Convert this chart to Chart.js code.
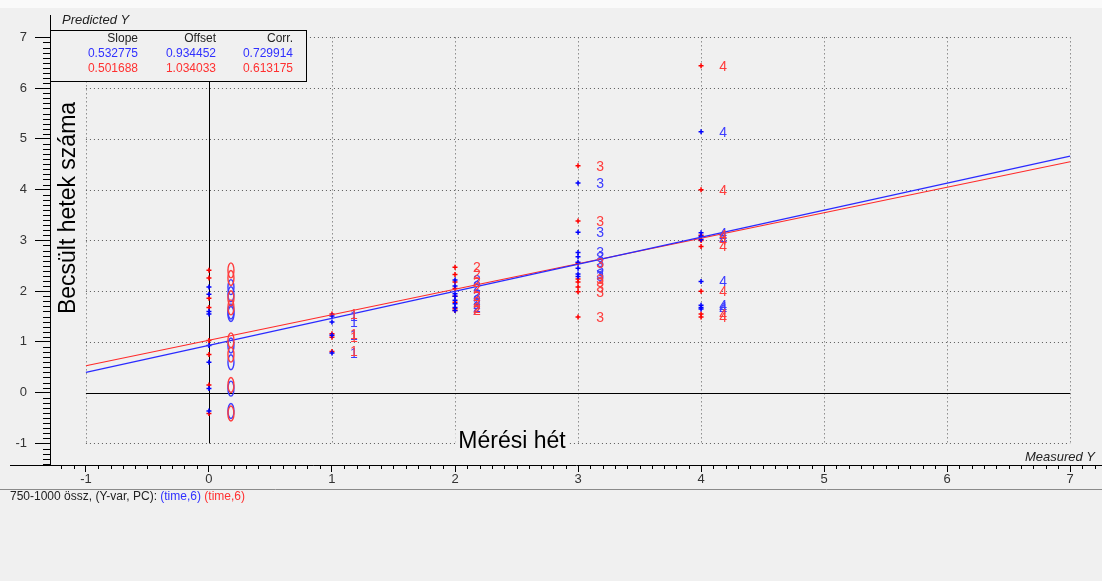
<!DOCTYPE html>
<html>
<head>
<meta charset="utf-8">
<script src="https://cdn.jsdelivr.net/npm/chart.js@4"></script>
<style>
html,body{margin:0;background:#f0f0f0}
#wrap{width:1102px;height:581px;position:relative}
</style>
</head>
<body>
<div id="wrap"><canvas id="chartCanvas"></canvas></div>
<script>
// measured week for each sample, and predicted week from the two models
let measuredWeek=[0,0,0,0,0,0,0,0, 1,1,1,1, 2,2,2,2,2,2,2,2, 3,3,3,3,3,3,3,3, 4,4,4,4,4,4,4,4]
let predictedBlue=[2.08,1.94,1.60,1.55,0.93,0.60,0.08,-0.36, 1.51,1.39,1.13,0.78,
    2.22,2.10,1.95,1.90,1.82,1.75,1.68,1.62, 4.13,3.16,2.76,2.68,2.57,2.45,2.34,2.29,
    5.14,3.15,3.08,3.02,2.19,1.72,1.68,1.65]
let predictedRed=[2.41,2.26,1.86,1.68,1.03,0.75,0.15,-0.41, 1.55,1.16,1.09,0.81,
    2.47,2.33,2.18,2.05,1.90,1.78,1.66,1.62, 4.47,3.38,2.55,2.24,2.18,2.08,1.99,1.49,
    6.44,4.00,3.10,3.00,2.88,2.00,1.55,1.49]
// regression lines, end points
let lineX=[-1,7]
let lineBlue=[0.40,4.66]
let lineRed=[0.53,4.55]
let statHeaders=["Slope","Offset","Corr."]
let statsBlue=["0.532775","0.934452","0.729914"]
let statsRed=["0.501688","1.034033","0.613175"]
let xTicks=[-1,0,1,2,3,4,5,6,7]
let yTicks=[-1,0,1,2,3,4,5,6,7]

let FONT="'Liberation Sans', Arial, sans-serif"
let BLUE="#0000ff", RED="#ff0000"

let pts=(xs,ys)=>xs.map((x,i)=>({x:x,y:ys[i]}))

let fig={
    id:"fig",
    beforeDraw(c){
        let ctx=c.ctx
        ctx.save()
        ctx.fillStyle="#f0f0f0"
        ctx.fillRect(0,0,c.width,c.height)
        ctx.fillStyle="#fafafa"
        ctx.fillRect(0,0,c.width,8)
        ctx.restore()
    },
    beforeDatasetsDraw(c){
        let ctx=c.ctx, xs=c.scales.x, ys=c.scales.y
        let L=xs.getPixelForValue(-1), R=xs.getPixelForValue(7)
        let T=ys.getPixelForValue(7), B=ys.getPixelForValue(-1)
        ctx.save()
        ctx.lineWidth=1
        ctx.strokeStyle="#5a5a5a"
        ctx.setLineDash([1,3])
        xTicks.forEach(v=>{
            if(v===0)return
            let x=Math.round(xs.getPixelForValue(v))+0.5
            ctx.beginPath();ctx.moveTo(x,T);ctx.lineTo(x,B);ctx.stroke()
        })
        yTicks.forEach(v=>{
            if(v===0)return
            let y=Math.round(ys.getPixelForValue(v))+0.5
            ctx.beginPath();ctx.moveTo(L,y);ctx.lineTo(R,y);ctx.stroke()
        })
        ctx.setLineDash([])
        ctx.strokeStyle="#000"
        let x0=Math.round(xs.getPixelForValue(0))+0.5
        let y0=Math.round(ys.getPixelForValue(0))+0.5
        ctx.beginPath();ctx.moveTo(x0,T);ctx.lineTo(x0,B);ctx.stroke()
        ctx.beginPath();ctx.moveTo(L,y0);ctx.lineTo(R,y0);ctx.stroke()
        ctx.restore()
    },
    afterDatasetsDraw(c){
        let ctx=c.ctx
        ctx.save()
        ctx.font="14px "+FONT
        ctx.textAlign="center"
        ctx.textBaseline="middle"
        ;[[2,"#3c3cff"],[3,"#ff3c3c"]].forEach(([i,col])=>{
            let meta=c.getDatasetMeta(i)
            ctx.fillStyle=col
            ctx.strokeStyle=col
            ctx.lineWidth=1.4
            meta.data.forEach((p,j)=>{
                let v=measuredWeek[j]
                let x=p.x+22, y=p.y
                if(v===0){
                    ctx.beginPath();ctx.ellipse(x,y,3,7.5,0,0,Math.PI*2);ctx.stroke()
                }else{
                    ctx.fillText(String(v),x,y+1)
                }
            })
        })
        ctx.restore()
    },
    afterDraw(c){
        let ctx=c.ctx, xs=c.scales.x, ys=c.scales.y
        ctx.save()
        ctx.strokeStyle="#000"
        ctx.lineWidth=1
        // minor ticks
        for(let k=-14;k<=70;k++){
            if(k%10===0)continue
            let y=Math.round(ys.getPixelForValue(k/10))+0.5
            ctx.beginPath();ctx.moveTo(43,y);ctx.lineTo(50,y);ctx.stroke()
        }
        let ab=c.chartArea.bottom
        for(let k=-12;k<=72;k++){
            if(k%10===0)continue
            let x=Math.round(xs.getPixelForValue(k/10))+0.5
            ctx.beginPath();ctx.moveTo(x,ab);ctx.lineTo(x,ab+4);ctx.stroke()
        }
        // axis line continues left of the y axis
        ctx.beginPath();ctx.moveTo(10,Math.round(ab)+0.5);ctx.lineTo(50,Math.round(ab)+0.5);ctx.stroke()
        // separator under the axis
        ctx.strokeStyle="#8a8a8a"
        ctx.beginPath();ctx.moveTo(0,489.5);ctx.lineTo(c.width,489.5);ctx.stroke()

        // stats box
        ctx.fillStyle="#f0f0f0"
        ctx.fillRect(50,30,256,51)
        ctx.strokeStyle="#000"
        ctx.strokeRect(50.5,30.5,256,51)
        ctx.font="12px "+FONT
        ctx.textAlign="right"
        ctx.textBaseline="middle"
        let cols=[138,216,293]
        statHeaders.forEach((t,i)=>{ctx.fillStyle="#222";ctx.fillText(t,cols[i],39)})
        statsBlue.forEach((t,i)=>{ctx.fillStyle="#3030ff";ctx.fillText(t,cols[i],54)})
        statsRed.forEach((t,i)=>{ctx.fillStyle="#ff3030";ctx.fillText(t,cols[i],69)})

        // axis names
        ctx.font="italic 13px "+FONT
        ctx.fillStyle="#222"
        ctx.textAlign="left"
        ctx.fillText("Predicted Y",62,20)
        ctx.textAlign="right"
        ctx.fillText("Measured Y",1095,457)

        ctx.font="23px "+FONT
        ctx.textAlign="center"
        let w=ctx.measureText("Mérési hét").width
        ctx.fillStyle="#f0f0f0"
        ctx.fillRect(512-w/2-3,430,w+6,24)
        ctx.fillStyle="#000"
        ctx.fillText("Mérési hét",512,442)
        ctx.save()
        ctx.translate(69,208)
        ctx.rotate(-Math.PI/2)
        ctx.fillText("Becsült hetek száma",0,0)
        ctx.restore()

        // caption
        ctx.font="12px "+FONT
        ctx.textAlign="left"
        let x=10
        ;[["750-1000 össz, (Y-var, PC): ","#222"],["(time,6)","#3030ff"],[" (time,6)","#ff3030"]].forEach(([t,col])=>{
            ctx.fillStyle=col
            ctx.fillText(t,x,497)
            x+=ctx.measureText(t).width
        })
        ctx.restore()
    }
}

let chartCanvas=document.querySelector("#chartCanvas")
let chart=new Chart(chartCanvas,{
    type:"scatter",
    data:{
        datasets:[
            {type:"line",data:pts(lineX,lineBlue),borderColor:"#2a2aff",borderWidth:1.2,pointRadius:0,fill:false},
            {type:"line",data:pts(lineX,lineRed),borderColor:"#ff2a2a",borderWidth:1.2,pointRadius:0,fill:false},
            {data:pts(measuredWeek,predictedBlue),pointStyle:"cross",pointRadius:2.5,borderColor:BLUE,backgroundColor:BLUE,borderWidth:1.5},
            {data:pts(measuredWeek,predictedRed),pointStyle:"cross",pointRadius:2.5,borderColor:RED,backgroundColor:RED,borderWidth:1.5}
        ]
    },
    options:{
        responsive:true,
        maintainAspectRatio:false,
        animation:false,
        layout:{autoPadding:false,padding:{top:8,right:0,bottom:90,left:0}},
        plugins:{legend:{display:false},tooltip:{enabled:false}},
        scales:{
            x:{
                type:"linear",min:-1.292,max:7.259,
                afterBuildTicks:s=>{s.ticks=xTicks.map(v=>({value:v}))},
                afterFit:s=>{s.height=26},
                grid:{drawOnChartArea:false,tickLength:7,color:"#000"},
                border:{color:"#000"},
                ticks:{color:"#333",font:{size:13,family:FONT},padding:0,maxRotation:0,autoSkip:false}
            },
            y:{
                type:"linear",min:-1.425,max:7.425,
                afterBuildTicks:s=>{s.ticks=yTicks.map(v=>({value:v}))},
                afterFit:s=>{s.width=50},
                grid:{drawOnChartArea:false,tickLength:15,color:"#000"},
                border:{color:"#000"},
                ticks:{color:"#333",font:{size:13,family:FONT},padding:8,autoSkip:false}
            }
        }
    },
    plugins:[fig]
})
</script>
</body>
</html>
